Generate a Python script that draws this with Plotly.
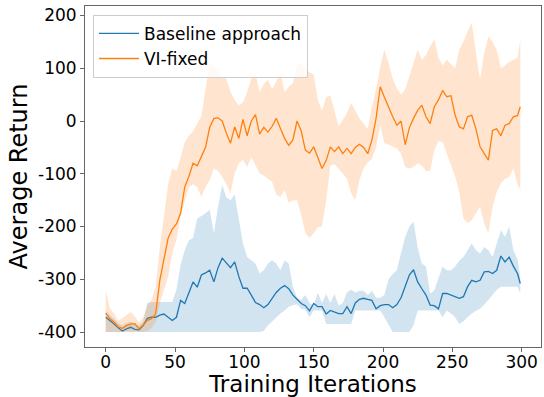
import plotly.graph_objects as go

# Training iterations at which the curves are recorded
iters = list(range(0, 300, 3)) + [299]

# Baseline approach: mean return and its shaded spread
base_mean = [-372, -378, -385, -392, -398, -394, -391, -395, -396, -388,
             -374, -372, -372, -368, -366, -372, -378, -372, -340, -346,
             -325, -305, -315, -292, -288, -283, -305, -278, -260, -268,
             -278, -267, -295, -317, -317, -330, -344, -348, -354, -348,
             -336, -325, -317, -312, -318, -330, -338, -346, -350, -360,
             -346, -352, -352, -366, -359, -362, -365, -365, -352, -365,
             -345, -338, -336, -338, -340, -356, -350, -348, -348, -354,
             -348, -335, -315, -292, -282, -305, -318, -330, -349, -350,
             -356, -327, -327, -330, -334, -336, -333, -314, -302, -305,
             -302, -286, -285, -289, -283, -256, -267, -258, -275, -289,
             -308]
base_upper = [-360, -368, -375, -383, -388, -383, -380, -385, -388, -380,
              -345, -343, -343, -343, -343, -343, -343, -320, -273, -245,
              -226, -222, -185, -180, -175, -168, -213, -163, -121, -145,
              -150, -140, -188, -232, -258, -264, -270, -289, -283, -270,
              -264, -270, -283, -264, -270, -314, -335, -340, -330, -345,
              -350, -325, -345, -328, -345, -328, -350, -345, -325, -320,
              -325, -322, -322, -330, -322, -335, -335, -330, -300, -290,
              -283, -250, -220, -200, -191, -240, -270, -276, -327, -321,
              -300, -276, -283, -283, -276, -265, -258, -245, -232, -245,
              -251, -239, -245, -258, -230, -207, -220, -200, -245, -262,
              -296]
base_lower = [-400, -400, -400, -400, -400, -400, -400, -400, -400, -400,
              -400, -400, -400, -400, -400, -400, -400, -400, -400, -400,
              -400, -400, -400, -400, -400, -400, -400, -400, -400, -400,
              -400, -400, -400, -400, -400, -400, -400, -400, -398, -387,
              -380, -372, -365, -359, -352, -349, -348, -356, -358, -372,
              -359, -359, -359, -385, -385, -385, -385, -385, -385, -385,
              -359, -359, -359, -359, -359, -359, -359, -372, -387, -400,
              -400, -400, -400, -400, -387, -359, -359, -359, -359, -359,
              -359, -372, -359, -365, -372, -385, -380, -372, -365, -360,
              -356, -348, -340, -330, -320, -314, -314, -314, -314, -314,
              -327]

# VI-fixed: mean return and its shaded spread
vi_mean = [-364, -375, -381, -390, -393, -388, -385, -384, -394, -387,
           -378, -375, -365, -302, -262, -222, -205, -195, -175, -125,
           -105, -80, -85, -68, -50, -12, 5, 6, 0, -23,
           -42, -11, -33, 3, -28, 0, 12, -25, -12, -21,
           -10, 5, -15, -33, -46, -36, 0, -19, -55, -61,
           -49, -70, -90, -75, -49, -58, -49, -62, -52, -62,
           -50, -44, -50, -62, -36, 5, 65, 45, 25, 8,
           -8, 0, -45, -13, 5, 20, 30, 8, -5, 27,
           40, 58, 46, 48, 11, -11, -15, 8, 11, -15,
           -49, -61, -74, -18, -15, -28, -8, -5, 8, 10,
           27]
vi_upper = [-321, -355, -365, -378, -374, -368, -362, -370, -382, -372,
            -350, -340, -315, -240, -175, -120, -90, -95, -70, -40,
            -28, -20, -5, 10, 60, 110, 105, 95, 85, 80,
            55, 40, 30, 35, 55, 80, 90, 55, 70, 78,
            60, 75, 91, 55, 65, 72, 105, 110, 100, 92,
            88, 40, 20, 45, 49, 20, -10, 2, 15, 34,
            20, 5, -5, -15, 27, 60, 103, 135, 110, 80,
            62, 50, 60, 84, 110, 135, 116, 125, 141, 155,
            120, 105, 116, 108, 100, 135, 150, 170, 186, 130,
            78, 130, 160, 150, 135, 100, 105, 112, 116, 120,
            154]
vi_lower = [-400, -400, -400, -400, -400, -398, -400, -398, -400, -400,
            -398, -393, -382, -346, -320, -295, -250, -225, -180, -150,
            -125, -120, -125, -144, -125, -112, -90, -95, -106, -120,
            -137, -99, -80, -74, -87, -68, -85, -99, -104, -110,
            -115, -140, -144, -131, -155, -150, -150, -178, -213, -222,
            -213, -201, -200, -150, -85, -82, -90, -100, -110, -137,
            -150, -112, -90, -78, -72, -50, -8, -42, -45, -49,
            -52, -62, -87, -90, -87, -80, -85, -95, -95, -55,
            -38, -40, -61, -85, -105, -135, -185, -194, -188, -175,
            -163, -195, -213, -163, -135, -118, -110, -106, -90, -120,
            -131]

x_ticks = [0, 50, 100, 150, 200, 250, 300]
y_ticks = [-400, -300, -200, -100, 0, 100, 200]
y_tick_text = ["-400", "-300", "-200", "-100", "0", "100", "200"]

blue = "#1f77b4"
orange = "#ff7f0e"

fig = go.Figure()


def add_band(lower, upper, fill_rgba):
    fig.add_trace(go.Scatter(x=iters, y=lower, mode="lines",
                             line=dict(width=0), showlegend=False,
                             hoverinfo="skip"))
    fig.add_trace(go.Scatter(x=iters, y=upper, mode="lines",
                             line=dict(width=0), fill="tonexty",
                             fillcolor=fill_rgba, showlegend=False,
                             hoverinfo="skip"))


add_band(base_lower, base_upper, "rgba(31,119,180,0.2)")
fig.add_trace(go.Scatter(x=iters, y=base_mean, mode="lines",
                         line=dict(color=blue, width=1.3),
                         name="Baseline approach"))
add_band(vi_lower, vi_upper, "rgba(255,127,14,0.2)")
fig.add_trace(go.Scatter(x=iters, y=vi_mean, mode="lines",
                         line=dict(color=orange, width=1.3),
                         name="VI-fixed"))

axis_common = dict(showline=True, linecolor="#666666", linewidth=1,
                   mirror=True, ticks="outside", ticklen=4, tickwidth=1,
                   tickcolor="#666666", showgrid=False, zeroline=False,
                   automargin=False,
                   tickfont=dict(family="DejaVu Sans", size=17, color="black"))

fig.update_layout(
    width=544, height=397,
    margin=dict(l=85, r=3, t=6, b=50),
    plot_bgcolor="white", paper_bgcolor="white",
    font=dict(family="DejaVu Sans", color="black"),
    xaxis=dict(range=[-14.95, 313.95], tickvals=x_ticks,
               ticklabelstandoff=-4,
               title=dict(text="Training Iterations", standoff=8,
                          font=dict(size=23)),
               **axis_common),
    yaxis=dict(range=[-428.4, 218], tickvals=y_ticks, ticktext=y_tick_text,
               title=dict(text="Average Return", standoff=3,
                          font=dict(size=24)),
               **axis_common),
    legend=dict(x=0.0175, y=0.974, xanchor="left", yanchor="top",
                traceorder="normal",
                bgcolor="rgba(255,255,255,0.8)", bordercolor="#cccccc",
                borderwidth=1, font=dict(family="DejaVu Sans", size=17),
                tracegroupgap=0, itemwidth=40),
)

fig.write_html("out.html")
